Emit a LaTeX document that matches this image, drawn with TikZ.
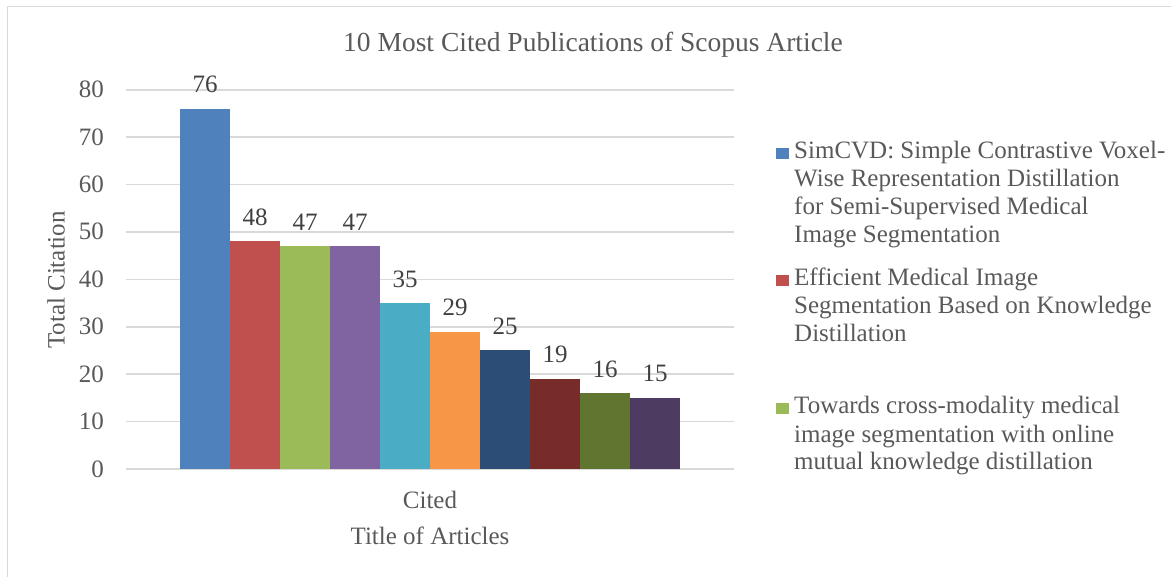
\documentclass[tikz,border=0pt]{standalone}
\usepackage{fontspec}
\setmainfont{Liberation Serif}
\usepackage{tikz}

\definecolor{gridgray}{HTML}{D9D9D9}
\definecolor{txtgray}{HTML}{595959}
\definecolor{lblgray}{HTML}{404040}
\definecolor{cA}{HTML}{4F81BD}
\definecolor{cB}{HTML}{C0504D}
\definecolor{cC}{HTML}{9BBB59}
\definecolor{cD}{HTML}{8064A2}
\definecolor{cE}{HTML}{4BACC6}
\definecolor{cF}{HTML}{F79646}
\definecolor{cG}{HTML}{2C4D75}
\definecolor{cH}{HTML}{772C2A}
\definecolor{cI}{HTML}{5F7530}
\definecolor{cJ}{HTML}{4D3B62}

\tikzset{
  chartfont/.style={font=\fontsize{25}{28}\selectfont, text=txtgray, inner sep=0pt},
  datalabel/.style={font=\fontsize{25}{28}\selectfont, text=lblgray, inner sep=0pt, anchor=base},
  gridline/.style={draw=gridgray, line width=1.5pt},
}

\begin{document}
\begin{tikzpicture}[x=1pt,y=-1pt]
		\useasboundingbox (0,0) rectangle (1171,577);
		% frame of the chart area
		\draw[gridgray, line width=1.5pt] (7.5,577) -- (7.5,6.5) -- (1171,6.5);
		\node[chartfont, font=\fontsize{27.5}{32}\selectfont, anchor=base] (title) at (593,52) {10 Most Cited Publications of Scopus Article};
		% horizontal grid and y ticks
		\foreach \v in {0,10,...,80} {
			\draw[gridline] (126,469-\v*4.74) -- (734,469-\v*4.74);
			\node[chartfont, anchor=base east] (tick\v) at (104,469-\v*4.74+8) {\v};
		}
		% bars, one per article
		\foreach \i/\h/\c in {0/76/cA,1/48/cB,2/47/cC,3/47/cD,4/35/cE,5/29/cF,6/25/cG,7/19/cH,8/16/cI,9/15/cJ} {
			\fill[\c] (180+50*\i,469) rectangle (230+50*\i,469-\h*4.74);
			\node[datalabel] (val\i) at (205+50*\i,469-\h*4.74-16) {\h};
		}
		\node[chartfont, rotate=90] (ylabel) at (56,280) {Total Citation};
		\node[chartfont, anchor=base] (cat) at (430,508) {Cited};
		\node[chartfont, anchor=base] (xlabel) at (430,544) {Title of Articles};
		% legend: square at first baseline, text anchored on its last line
		\foreach \c/\y/\ylast/\txt in {cA/159/243/{SimCVD: Simple Contrastive Voxel-\\Wise Representation Distillation\\for Semi-Supervised Medical\\Image Segmentation},
			cB/286/342/{Efficient Medical Image\\Segmentation Based on Knowledge\\Distillation},
			cC/414/470/{Towards cross-modality medical\\image segmentation with online\\mutual knowledge distillation}} {
			\fill[\c] (776,\y-11) rectangle (789,\y);
			\node[chartfont, align=left, anchor=base west] (leg\c) at (794,\ylast) {\txt};
		}
\end{tikzpicture}
\end{document}
